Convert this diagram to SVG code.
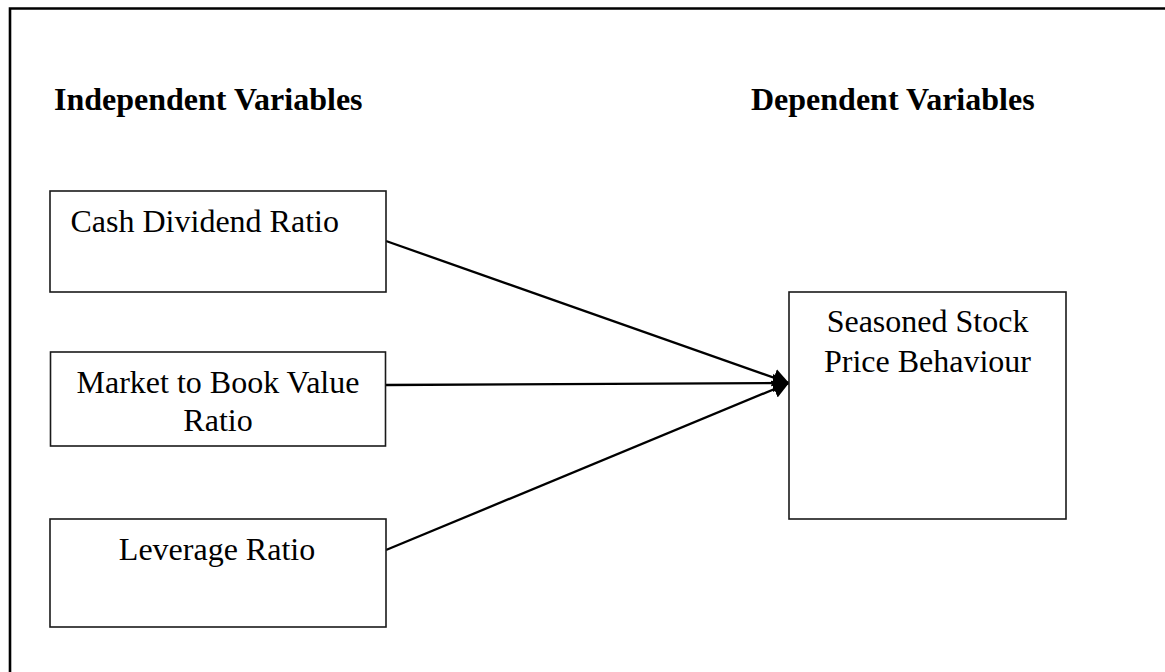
<svg xmlns="http://www.w3.org/2000/svg" width="1165" height="672" viewBox="0 0 1165 672">
<style>
.box{fill:#fff;stroke:#1a1a1a;stroke-width:1.6}
.t{font-family:"Liberation Serif","Times New Roman",serif;font-size:32px;fill:#000}
.h{font-family:"Liberation Serif","Times New Roman",serif;font-size:32px;font-weight:bold;fill:#000}
.c{fill:none;stroke:#000;stroke-width:2.3}
</style>
<defs>
<marker id="ah" markerUnits="userSpaceOnUse" markerWidth="18" markerHeight="20" refX="16" refY="9" orient="auto">
<path d="M0,0 L16,9 L0,18 Z" fill="#000"/>
</marker>
</defs>
<rect width="1165" height="672" fill="#fff"/>
<g id="frame">
<path d="M10,672 L10,8.5 L1165,8.5" fill="none" stroke="#000" stroke-width="2.6"/>
</g>
<g id="heading-independent"><text class="h" x="54" y="110">Independent Variables</text></g>
<g id="heading-dependent"><text class="h" x="751" y="110">Dependent Variables</text></g>
<g id="connectors">
<line class="c" x1="386" y1="241" x2="789" y2="383" marker-end="url(#ah)"/>
<line class="c" x1="386" y1="385" x2="789" y2="383" marker-end="url(#ah)"/>
<line class="c" x1="386" y1="550" x2="789" y2="383" marker-end="url(#ah)"/>
</g>
<g id="cash">
<rect class="box" x="50" y="191" width="336" height="101"/>
<text class="t" x="70.5" y="232">Cash Dividend Ratio</text>
</g>
<g id="market">
<rect class="box" x="50.5" y="352" width="335" height="94"/>
<text class="t" x="218" y="393" text-anchor="middle">Market to Book Value</text>
<text class="t" x="218" y="431" text-anchor="middle">Ratio</text>
</g>
<g id="leverage">
<rect class="box" x="50" y="519" width="336" height="108"/>
<text class="t" x="217" y="560" text-anchor="middle">Leverage Ratio</text>
</g>
<g id="seasoned">
<rect class="box" x="789" y="292" width="277" height="227"/>
<text class="t" x="927.5" y="332" text-anchor="middle">Seasoned Stock</text>
<text class="t" x="927.5" y="372" text-anchor="middle">Price Behaviour</text>
</g>
</svg>
